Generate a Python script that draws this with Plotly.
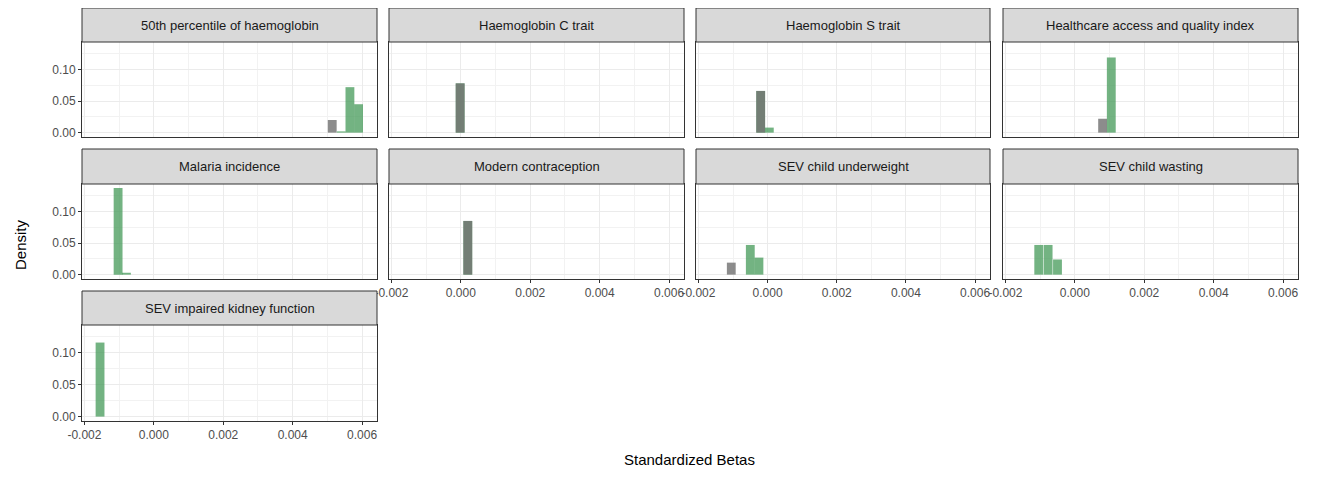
import plotly.graph_objects as go

# ---------------- data ----------------
panel_titles = [
    "50th percentile of haemoglobin", "Haemoglobin C trait", "Haemoglobin S trait",
    "Healthcare access and quality index", "Malaria incidence", "Modern contraception",
    "SEV child underweight", "SEV child wasting", "SEV impaired kidney function",
]
bin_width = 0.000255

grey_x = [
    [0.00514], [-0.00002], [-0.0002], [0.0008], [], [0.0002], [-0.00105], [], [],
]
grey_y = [
    [0.020], [0.078], [0.066], [0.022], [], [0.085], [0.019], [], [],
]
green_x = [
    [0.0054, 0.00565, 0.0059], [-0.00002], [-0.0002, 0.00005], [0.00105],
    [-0.00103, -0.00079], [0.0002], [-0.0005, -0.00025],
    [-0.00104, -0.00077, -0.0005], [-0.00155],
]
green_y = [
    [0.002, 0.072, 0.045], [0.078], [0.066, 0.008], [0.119],
    [0.137, 0.003], [0.085], [0.047, 0.027],
    [0.047, 0.047, 0.024], [0.116],
]

x_tickvals = [-0.002, 0.0, 0.002, 0.004, 0.006]
x_ticktext = ["-0.002", "0.000", "0.002", "0.004", "0.006"]
y_tickvals = [0.0, 0.05, 0.10]
y_ticktext = ["0.00", "0.05", "0.10"]

# ---------------- layout geometry ----------------
# page body has an 8px margin; figure sized so the page fits the window
OFF = 8
W, H = 1323 - 2 * OFF, 477 - 2 * OFF


def fx(px):
    return (px - OFF) / W


def fy(py):
    return 1 - (py - OFF) / H


col_px = [(82, 377), (389, 684), (696, 990), (1003, 1298)]
row_px = [(8, 42, 137), (149, 184, 279), (291, 325, 421)]  # strip top, panel top, panel bottom

x_range = [-0.00207, 0.00643]
y_range = [-0.0069, 0.1435]

FONT = "Liberation Sans, Arial, sans-serif"
GREY_FILL = "rgba(115,115,115,0.82)"
GREEN_FILL = "rgba(66,152,86,0.74)"

fig = go.Figure()
layout = dict(
    width=W, height=H,
    margin=dict(l=0, r=0, t=0, b=0, autoexpand=False),
    paper_bgcolor="white", plot_bgcolor="white",
    showlegend=False, barmode="overlay",
    font=dict(family=FONT, size=12, color="#4d4d4d"),
    shapes=[], annotations=[],
)

for i, title in enumerate(panel_titles):
    r, c = divmod(i, 4)
    x0, x1 = col_px[c]
    st, pt, pb = row_px[r]
    ax = "" if i == 0 else str(i + 1)
    xa, ya = "x" + ax, "y" + ax

    # green first, grey drawn on top of it
    if green_x[i]:
        fig.add_trace(go.Bar(x=green_x[i], y=green_y[i], width=bin_width,
                             marker=dict(color=GREEN_FILL, line=dict(width=0)),
                             xaxis=xa, yaxis=ya, hoverinfo="x+y"))
    if grey_x[i]:
        fig.add_trace(go.Bar(x=grey_x[i], y=grey_y[i], width=bin_width,
                             marker=dict(color=GREY_FILL, line=dict(width=0)),
                             xaxis=xa, yaxis=ya, hoverinfo="x+y"))

    show_x = (i >= 5)
    show_y = (c == 0)

    layout["xaxis" + ax] = dict(
        domain=[fx(x0), fx(x1)], anchor=ya, range=x_range, automargin=False,
        tickvals=x_tickvals, ticktext=x_ticktext,
        showticklabels=show_x, ticks="outside" if show_x else "",
        ticklen=3, tickwidth=1, tickcolor="#333333",
        tickfont=dict(family=FONT, size=12, color="#4d4d4d"),
        showgrid=True, gridcolor="#ebebeb", gridwidth=1,
        minor=dict(dtick=0.001, tick0=0.001, showgrid=True, gridcolor="#f2f2f2", gridwidth=0.5),
        showline=True, mirror=True, linecolor="#333333", linewidth=1,
        zeroline=False, fixedrange=True,
    )
    layout["yaxis" + ax] = dict(
        domain=[fy(pb), fy(pt)], anchor=xa, range=y_range, automargin=False,
        tickvals=y_tickvals, ticktext=y_ticktext,
        showticklabels=show_y, ticks="outside" if show_y else "",
        ticklen=3, tickwidth=1, tickcolor="#333333",
        tickfont=dict(family=FONT, size=12, color="#4d4d4d"),
        showgrid=True, gridcolor="#ebebeb", gridwidth=1,
        minor=dict(dtick=0.05, tick0=0.025, showgrid=True, gridcolor="#f2f2f2", gridwidth=0.5),
        showline=True, mirror=True, linecolor="#333333", linewidth=1,
        zeroline=False, fixedrange=True,
    )

    layout["shapes"].append(dict(
        type="rect", xref="paper", yref="paper",
        x0=fx(x0), x1=fx(x1), y0=fy(pt), y1=fy(st),
        fillcolor="#d9d9d9", line=dict(color="#333333", width=1), layer="above",
    ))
    layout["annotations"].append(dict(
        text=title, xref="paper", yref="paper",
        x=fx((x0 + x1) / 2), y=fy((st + pt) / 2),
        xanchor="center", yanchor="middle", showarrow=False,
        font=dict(family=FONT, size=13, color="#1a1a1a"),
    ))

layout["annotations"].append(dict(
    text="Standardized Betas", xref="paper", yref="paper",
    x=fx(690), y=fy(459), xanchor="center", yanchor="middle", showarrow=False,
    font=dict(family=FONT, size=15, color="black"),
))
layout["annotations"].append(dict(
    text="Density", xref="paper", yref="paper",
    x=fx(20), y=fy(245), xanchor="center", yanchor="middle", showarrow=False,
    textangle=-90, font=dict(family=FONT, size=15, color="black"),
))

fig.update_layout(**layout)
fig.write_html("out.html")
